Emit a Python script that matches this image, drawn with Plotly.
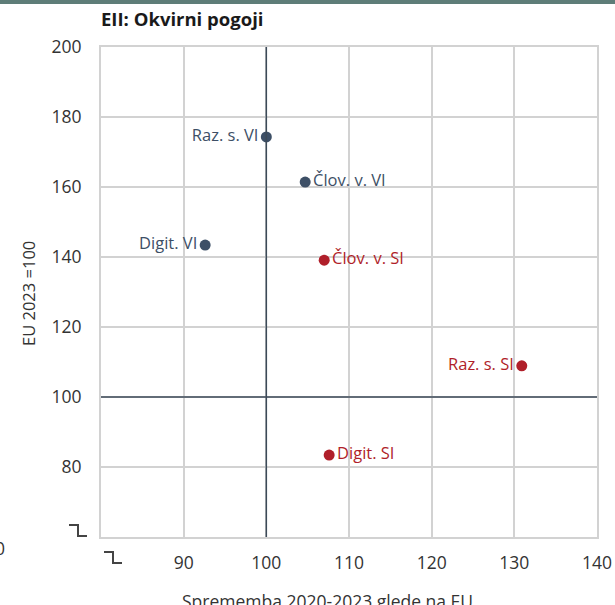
import plotly.graph_objects as go

# Data
labels_vi = ["Raz. s. VI", "Člov. v. VI", "Digit. VI"]
x_vi = [100.0, 104.7, 92.6]
y_vi = [174.3, 161.4, 143.4]
pos_vi = ["middle left", "middle right", "middle left"]

labels_si = ["Člov. v. SI", "Raz. s. SI", "Digit. SI"]
x_si = [107.0, 130.9, 107.6]
y_si = [139.1, 108.9, 83.4]
pos_si = ["middle right", "middle left", "middle right"]

x_ticks = [80, 90, 100, 110, 120, 130, 140]
x_ticktext = ["", "90", "100", "110", "120", "130", "140"]
y_ticks = [60, 80, 100, 120, 140, 160, 180, 200]
y_ticktext = ["", "80", "100", "120", "140", "160", "180", "200"]

title = "EII: Okvirni pogoji"
x_title = "Sprememba 2020-2023 glede na EU"
y_title = "EU 2023 =100"

W, H = 615, 605
L, R, T, B = 101, 18, 47, 68
PW, PH = W - L - R, H - T - B

def px(x):
    return (x - L) / PW

def py(y):
    return (H - B - y) / PH

BLUE = "#3d4f66"
RED = "#b01f2a"
FONT = "Open Sans"

fig = go.Figure()
fig.add_trace(go.Scatter(
    x=x_vi, y=y_vi, mode="markers+text", text=labels_vi, textposition=pos_vi,
    marker=dict(color=BLUE, size=11), textfont=dict(color=BLUE, size=16.5, family=FONT),
    cliponaxis=False, showlegend=False))
fig.add_trace(go.Scatter(
    x=x_si, y=y_si, mode="markers+text", text=labels_si, textposition=pos_si,
    marker=dict(color=RED, size=11), textfont=dict(color=RED, size=16.5, family=FONT),
    cliponaxis=False, showlegend=False))

fig.update_xaxes(range=[80, 140], tickvals=x_ticks, ticktext=x_ticktext,
                 showgrid=True, gridcolor="#d2d2d2", gridwidth=1.8,
                 showline=True, linecolor="#d2d2d2", linewidth=1.8, mirror=True,
                 zeroline=False, ticks="", ticklabelstandoff=9, automargin=False,
                 tickfont=dict(size=17.5, color="#333333", family=FONT))
fig.update_yaxes(range=[60, 200], tickvals=y_ticks, ticktext=y_ticktext,
                 showgrid=True, gridcolor="#d2d2d2", gridwidth=1.8,
                 showline=True, linecolor="#d2d2d2", linewidth=1.8, mirror=True,
                 zeroline=False, ticks="", ticklabelstandoff=14, automargin=False,
                 tickfont=dict(size=17.5, color="#333333", family=FONT))

shapes = []
# reference lines at 100
shapes.append(dict(type="line", xref="x", yref="paper", x0=100, x1=100, y0=0, y1=1,
                   line=dict(color="#3c4a58", width=1.5)))
shapes.append(dict(type="line", xref="paper", yref="y", x0=0, x1=1, y0=100, y1=100,
                   line=dict(color="#3c4a58", width=1.5)))
# top band line
shapes.append(dict(type="rect", xref="paper", yref="paper", x0=px(0), x1=px(W),
                   y0=py(4), y1=py(0), fillcolor="#5e7d78", line=dict(width=0)))
# axis break symbols
def brk(x0, y0, x1, y1, x2):
    return dict(type="path", xref="paper", yref="paper",
                path=f"M {px(x0)} {py(y0)} L {px(x1)} {py(y0)} L {px(x1)} {py(y1)} L {px(x2)} {py(y1)}",
                line=dict(color="#444444", width=2))
shapes.append(brk(69, 525, 78, 536, 87))
shapes.append(brk(104, 552, 113, 563, 122))

annotations = [
    dict(text=f"<b>{title}</b>", xref="paper", yref="paper", x=px(99), y=py(4),
         xanchor="left", yanchor="top", showarrow=False,
         font=dict(size=18.5, color="#1a1a1a", family=FONT)),
    dict(text=y_title, xref="paper", yref="paper", x=px(28), y=py(294),
         xanchor="center", yanchor="middle", textangle=-90, showarrow=False,
         font=dict(size=16.5, color="#333333", family=FONT)),
    dict(text=x_title, xref="paper", yref="paper", x=px(327), y=py(587),
         xanchor="center", yanchor="top", showarrow=False,
         font=dict(size=17.5, color="#333333", family=FONT)),
    dict(text="0", xref="paper", yref="paper", x=px(7), y=py(548),
         xanchor="right", yanchor="middle", showarrow=False,
         font=dict(size=17.5, color="#333333", family=FONT)),
]

fig.update_layout(width=W, height=H, margin=dict(l=L, r=R, t=T, b=B),
                  plot_bgcolor="white", paper_bgcolor="white",
                  shapes=shapes, annotations=annotations, showlegend=False)

fig.write_html("out.html", config={"displayModeBar": False},
               post_script="document.body.style.margin='0';document.body.style.overflow='hidden';")
